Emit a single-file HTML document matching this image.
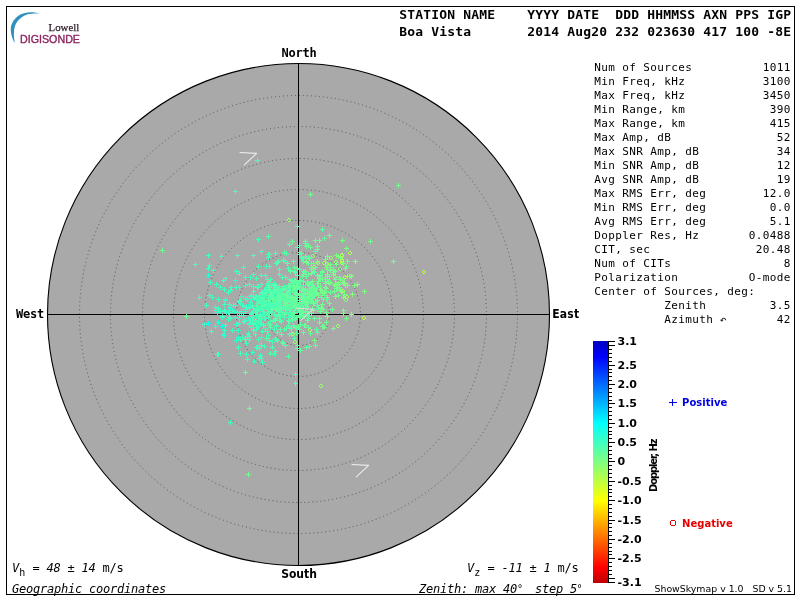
<!DOCTYPE html>
<html lang="en"><head><meta charset="utf-8"><title>Skymap - Boa Vista</title>
<style>
html,body{margin:0;padding:0;background:#fff}
body{width:800px;height:600px;overflow:hidden;position:relative}
svg{position:absolute;left:0;top:0;display:block;will-change:transform}
text{white-space:pre}
.hb{font:bold 13px "DejaVu Sans Mono","Liberation Mono",monospace;letter-spacing:.174px;fill:#000}
.tb{font:11px "DejaVu Sans Mono","Liberation Mono",monospace;letter-spacing:.378px;fill:#000}
.it{font:italic 12px "DejaVu Sans Mono","Liberation Mono",monospace;letter-spacing:-.224px;fill:#000}
.up{font:12px "DejaVu Sans Mono","Liberation Mono",monospace;letter-spacing:-.224px;fill:#000}
.mb{font:bold 12px "DejaVu Sans Mono","Liberation Mono",monospace;fill:#000}
.sb{font:bold 12px "DejaVu Sans Condensed","DejaVu Sans","Liberation Sans",sans-serif;fill:#000}
.cl{font:bold 11px "DejaVu Sans","Liberation Sans",sans-serif;fill:#000}
.lg{font:bold 10px "DejaVu Sans","Liberation Sans",sans-serif}
.sm{font:9.4px "DejaVu Sans","Liberation Sans",sans-serif;fill:#000}
</style></head>
<body>
<svg width="800" height="600" viewBox="0 0 800 600">
<defs>
<linearGradient id="jet" x1="0" y1="0" x2="0" y2="1">
<stop offset="0.0000" stop-color="#0000be"/>
<stop offset="0.0645" stop-color="#0000ff"/>
<stop offset="0.3387" stop-color="#00ffff"/>
<stop offset="0.5000" stop-color="#80ff80"/>
<stop offset="0.6613" stop-color="#ffff00"/>
<stop offset="0.9355" stop-color="#ff0000"/>
<stop offset="1.0000" stop-color="#be0000"/>
</linearGradient>
<clipPath id="cc"><circle cx="298.5" cy="314.5" r="251.0"/></clipPath>
</defs>
<rect x="6.5" y="6.5" width="788" height="588" fill="#fff" stroke="#000" stroke-width="1" shape-rendering="crispEdges"/>
<g id="logo">
<path d="M39.3 13.7C34 11.4 24 11.4 18 16C13 20 10.5 25 10.8 30C11 35 12.5 39.5 14.9 43C13.5 37 13.5 30.5 15 26C17 20.5 22 16.2 28 14.3C32 13.2 36 13.2 39.3 13.7Z" fill="#3191bd"/>
<text x="48.6" y="30.6" textLength="30.6" lengthAdjust="spacingAndGlyphs" style="font:11px 'Liberation Serif',serif;fill:#33222c;stroke:#33222c;stroke-width:.25px">Lowell</text>
<text x="20" y="42.8" textLength="60" lengthAdjust="spacingAndGlyphs" style="font:10.5px 'Liberation Sans',sans-serif;fill:#8c2460;stroke:#8c2460;stroke-width:.35px">DIGISONDE</text>
</g>
<text class="hb" x="399.3" y="19">STATION NAME    YYYY DATE  DDD HHMMSS AXN PPS IGP</text>
<text class="hb" x="399.3" y="35.7">Boa Vista       2014 Aug20 232 023630 417 100 -8E</text>
<text class="tb" x="594.3" y="71">Num of Sources</text><text class="tb" x="790.7" y="71" text-anchor="end">1011</text>
<text class="tb" x="594.3" y="85">Min Freq, kHz</text><text class="tb" x="790.7" y="85" text-anchor="end">3100</text>
<text class="tb" x="594.3" y="99">Max Freq, kHz</text><text class="tb" x="790.7" y="99" text-anchor="end">3450</text>
<text class="tb" x="594.3" y="113">Min Range, km</text><text class="tb" x="790.7" y="113" text-anchor="end">390</text>
<text class="tb" x="594.3" y="127">Max Range, km</text><text class="tb" x="790.7" y="127" text-anchor="end">415</text>
<text class="tb" x="594.3" y="141">Max Amp, dB</text><text class="tb" x="790.7" y="141" text-anchor="end">52</text>
<text class="tb" x="594.3" y="155">Max SNR Amp, dB</text><text class="tb" x="790.7" y="155" text-anchor="end">34</text>
<text class="tb" x="594.3" y="169">Min SNR Amp, dB</text><text class="tb" x="790.7" y="169" text-anchor="end">12</text>
<text class="tb" x="594.3" y="183">Avg SNR Amp, dB</text><text class="tb" x="790.7" y="183" text-anchor="end">19</text>
<text class="tb" x="594.3" y="197">Max RMS Err, deg</text><text class="tb" x="790.7" y="197" text-anchor="end">12.0</text>
<text class="tb" x="594.3" y="211">Min RMS Err, deg</text><text class="tb" x="790.7" y="211" text-anchor="end">0.0</text>
<text class="tb" x="594.3" y="225">Avg RMS Err, deg</text><text class="tb" x="790.7" y="225" text-anchor="end">5.1</text>
<text class="tb" x="594.3" y="239">Doppler Res, Hz</text><text class="tb" x="790.7" y="239" text-anchor="end">0.0488</text>
<text class="tb" x="594.3" y="253">CIT, sec</text><text class="tb" x="790.7" y="253" text-anchor="end">20.48</text>
<text class="tb" x="594.3" y="267">Num of CITs</text><text class="tb" x="790.7" y="267" text-anchor="end">8</text>
<text class="tb" x="594.3" y="281">Polarization</text><text class="tb" x="790.7" y="281" text-anchor="end">O-mode</text>
<text class="tb" x="594.3" y="295">Center of Sources, deg:</text>
<text class="tb" x="594.3" y="309">          Zenith</text><text class="tb" x="790.7" y="309" text-anchor="end">3.5</text>
<text class="tb" x="594.3" y="323">          Azimuth</text><text class="tb" x="790.7" y="323" text-anchor="end">42</text>
<text x="720" y="323" style="font:bold 7.5px 'DejaVu Sans',sans-serif;fill:#222">↶</text>
<g id="sky">
<circle cx="298.5" cy="314.5" r="251.0" fill="#a9a9a9" stroke="#000" stroke-width="1.1"/>
<circle cx="298.5" cy="314.5" r="31.00" fill="none" stroke="#555" stroke-width="1" stroke-dasharray="1 2.9751"/>
<circle cx="298.5" cy="314.5" r="62.00" fill="none" stroke="#555" stroke-width="1" stroke-dasharray="1 3.0161"/>
<circle cx="298.5" cy="314.5" r="94.00" fill="none" stroke="#555" stroke-width="1" stroke-dasharray="1 2.9907"/>
<circle cx="298.5" cy="314.5" r="125.00" fill="none" stroke="#555" stroke-width="1" stroke-dasharray="1 3.0071"/>
<circle cx="298.5" cy="314.5" r="156.00" fill="none" stroke="#555" stroke-width="1" stroke-dasharray="1 3.0007"/>
<circle cx="298.5" cy="314.5" r="188.00" fill="none" stroke="#555" stroke-width="1" stroke-dasharray="1 3.0042"/>
<circle cx="298.5" cy="314.5" r="219.00" fill="none" stroke="#555" stroke-width="1" stroke-dasharray="1 3.0001"/>
<path d="M298.5 63.5V565.5M47.5 314.5H549.5" stroke="#000" stroke-width="1" shape-rendering="crispEdges"/>
<g id="sources" clip-path="url(#cc)">
<path d="M206 323.5h5M208.5 321v5" stroke="#0dfff2" stroke-width="1" fill="none" shape-rendering="crispEdges"/>
<path d="M220 326.5h5M222.5 324v5" stroke="#13ffec" stroke-width="1" fill="none" shape-rendering="crispEdges"/>
<path d="M215 312.5h5M217.5 310v5" stroke="#1affe6" stroke-width="1" fill="none" shape-rendering="crispEdges"/>
<path d="M237 302.5h5M239.5 300v5M206 275.5h5M208.5 273v5M228 308.5h5M230.5 306v5" stroke="#20ffdf" stroke-width="1" fill="none" shape-rendering="crispEdges"/>
<path d="M210 297.5h5M212.5 295v5M223 300.5h5M225.5 298v5M233 280.5h5M235.5 278v5M236 337.5h5M238.5 335v5M216 322.5h5M218.5 320v5M213 307.5h5M215.5 305v5" stroke="#26ffd9" stroke-width="1" fill="none" shape-rendering="crispEdges"/>
<path d="M237 323.5h5M239.5 321v5M243 320.5h5M245.5 318v5M224 312.5h5M226.5 310v5M247 306.5h5M249.5 304v5M265 284.5h5M267.5 282v5M239 311.5h5M241.5 309v5M227 307.5h5M229.5 305v5M222 335.5h5M224.5 333v5M213 326.5h5M215.5 324v5M233 305.5h5M235.5 303v5" stroke="#2dffd3" stroke-width="1" fill="none" shape-rendering="crispEdges"/>
<path d="M254 310.5h5M256.5 308v5M260 302.5h5M262.5 300v5M268 297.5h5M270.5 295v5M249 313.5h5M251.5 311v5M255 327.5h5M257.5 325v5M247 308.5h5M249.5 306v5M237 287.5h5M239.5 285v5M245 299.5h5M247.5 297v5M247 320.5h5M249.5 318v5M237 318.5h5M239.5 316v5M232 311.5h5M234.5 309v5M250 352.5h5M252.5 350v5M245 336.5h5M247.5 334v5M247 336.5h5M249.5 334v5M221 334.5h5M223.5 332v5M254 329.5h5M256.5 327v5M235 324.5h5M237.5 322v5M233 317.5h5M235.5 315v5M251 316.5h5M253.5 314v5M249 299.5h5M251.5 297v5M249 318.5h5M251.5 316v5M234 340.5h5M236.5 338v5M236 330.5h5M238.5 328v5M283 261.5h5M285.5 259v5" stroke="#33ffcc" stroke-width="1" fill="none" shape-rendering="crispEdges"/>
<path d="M239 313.5h5M241.5 311v5M258 308.5h5M260.5 306v5M272 286.5h5M274.5 284v5M247 307.5h5M249.5 305v5M255 303.5h5M257.5 301v5M258 314.5h5M260.5 312v5M269 296.5h5M271.5 294v5M251 307.5h5M253.5 305v5M283 298.5h5M285.5 296v5M246 306.5h5M248.5 304v5M244 306.5h5M246.5 304v5M223 299.5h5M225.5 297v5M239 311.5h5M241.5 309v5M237 301.5h5M239.5 299v5M255 286.5h5M257.5 284v5M260 314.5h5M262.5 312v5M237 300.5h5M239.5 298v5M239 296.5h5M241.5 294v5M237 315.5h5M239.5 313v5M269 293.5h5M271.5 291v5M241 305.5h5M243.5 303v5M223 311.5h5M225.5 309v5M260 296.5h5M262.5 294v5M241 313.5h5M243.5 311v5M248 302.5h5M250.5 300v5M254 307.5h5M256.5 305v5M263 328.5h5M265.5 326v5M226 312.5h5M228.5 310v5M248 320.5h5M250.5 318v5M240 305.5h5M242.5 303v5M257 345.5h5M259.5 343v5M256 316.5h5M258.5 314v5M234 324.5h5M236.5 322v5M246 318.5h5M248.5 316v5M251 323.5h5M253.5 321v5M249 324.5h5M251.5 322v5M259 337.5h5M261.5 335v5M249 314.5h5M251.5 312v5M253 320.5h5M255.5 318v5M259 251.5h5M261.5 249v5" stroke="#3affc6" stroke-width="1" fill="none" shape-rendering="crispEdges"/>
<path d="M270 304.5h5M272.5 302v5M256 308.5h5M258.5 306v5M259 316.5h5M261.5 314v5M277 300.5h5M279.5 298v5M264 304.5h5M266.5 302v5M254 296.5h5M256.5 294v5M284 300.5h5M286.5 298v5M259 295.5h5M261.5 293v5M241 315.5h5M243.5 313v5M278 311.5h5M280.5 309v5M256 318.5h5M258.5 316v5M255 314.5h5M257.5 312v5M274 288.5h5M276.5 286v5M264 292.5h5M266.5 290v5M253 309.5h5M255.5 307v5M285 289.5h5M287.5 287v5M252 298.5h5M254.5 296v5M257 295.5h5M259.5 293v5M262 318.5h5M264.5 316v5M243 311.5h5M245.5 309v5M247 296.5h5M249.5 294v5M269 285.5h5M271.5 283v5M275 288.5h5M277.5 286v5M227 312.5h5M229.5 310v5M257 309.5h5M259.5 307v5M263 290.5h5M265.5 288v5M263 275.5h5M265.5 273v5M267 289.5h5M269.5 287v5M259 284.5h5M261.5 282v5M243 285.5h5M245.5 283v5M258 319.5h5M260.5 317v5M267 281.5h5M269.5 279v5M270 305.5h5M272.5 303v5M249 295.5h5M251.5 293v5M268 302.5h5M270.5 300v5M262 290.5h5M264.5 288v5M255 305.5h5M257.5 303v5M266 297.5h5M268.5 295v5M262 303.5h5M264.5 301v5M258 324.5h5M260.5 322v5M261 307.5h5M263.5 305v5M265 279.5h5M267.5 277v5M255 311.5h5M257.5 309v5M246 333.5h5M248.5 331v5M238 303.5h5M240.5 301v5M251 312.5h5M253.5 310v5M282 314.5h5M284.5 312v5M235 312.5h5M237.5 310v5M262 315.5h5M264.5 313v5M247 323.5h5M249.5 321v5M249 327.5h5M251.5 325v5M228 318.5h5M230.5 316v5M256 326.5h5M258.5 324v5M243 309.5h5M245.5 307v5M253 309.5h5M255.5 307v5M254 329.5h5M256.5 327v5M264 338.5h5M266.5 336v5M251 318.5h5M253.5 316v5M253 334.5h5M255.5 332v5M274 326.5h5M276.5 324v5M247 336.5h5M249.5 334v5M260 362.5h5M262.5 360v5M230 310.5h5M232.5 308v5M227 317.5h5M229.5 315v5M251 296.5h5M253.5 294v5M242 321.5h5M244.5 319v5M250 320.5h5M252.5 318v5M254 347.5h5M256.5 345v5M263 318.5h5M265.5 316v5M233 191.5h5M235.5 189v5M206 255.5h5M208.5 253v5M219 256.5h5M221.5 254v5M235 255.5h5M237.5 253v5M251 255.5h5M253.5 253v5M256 239.5h5M258.5 237v5M193 264.5h5M195.5 262v5M207 265.5h5M209.5 263v5M206 268.5h5M208.5 266v5M241 267.5h5M243.5 265v5M266 236.5h5M268.5 234v5M202 324.5h5M204.5 322v5M209 331.5h5M211.5 329v5M215 354.5h5M217.5 352v5M216 354.5h5M218.5 352v5M245 359.5h5M247.5 357v5M252 361.5h5M254.5 359v5M257 358.5h5M259.5 356v5M258 355.5h5M260.5 353v5M244 354.5h5M246.5 352v5M236 347.5h5M238.5 345v5M244 343.5h5M246.5 341v5M240 337.5h5M242.5 335v5M247 339.5h5M249.5 337v5M222 330.5h5M224.5 328v5M230 330.5h5M232.5 328v5M223 325.5h5M225.5 323v5M220 317.5h5M222.5 315v5M226 319.5h5M228.5 317v5M228 422.5h5M230.5 420v5M255 160.5h5M257.5 158v5M211 270.5h5M213.5 268v5M267 266.5h5M269.5 264v5M234 271.5h5M236.5 269v5M243 277.5h5M245.5 275v5M248 277.5h5M250.5 275v5M251 274.5h5M253.5 272v5M259 275.5h5M261.5 273v5M223 278.5h5M225.5 276v5M221 280.5h5M223.5 278v5M208 282.5h5M210.5 280v5M214 284.5h5M216.5 282v5M218 287.5h5M220.5 285v5M222 289.5h5M224.5 287v5M229 287.5h5M231.5 285v5M234 287.5h5M236.5 285v5M228 290.5h5M230.5 288v5M226 292.5h5M228.5 290v5M197 297.5h5M199.5 295v5M207 295.5h5M209.5 293v5M210 297.5h5M212.5 295v5M216 299.5h5M218.5 297v5M204 305.5h5M206.5 303v5M222 304.5h5M224.5 302v5M227 304.5h5M229.5 302v5M231 305.5h5M233.5 303v5M213 310.5h5M215.5 308v5M216 308.5h5M218.5 306v5M218 311.5h5M220.5 309v5M222 310.5h5M224.5 308v5M220 316.5h5M222.5 314v5" stroke="#40ffc0" stroke-width="1" fill="none" shape-rendering="crispEdges"/>
<path d="M279 294.5h5M281.5 292v5M253 309.5h5M255.5 307v5M282 297.5h5M284.5 295v5M268 306.5h5M270.5 304v5M267 298.5h5M269.5 296v5M260 293.5h5M262.5 291v5M288 302.5h5M290.5 300v5M289 314.5h5M291.5 312v5M272 296.5h5M274.5 294v5M278 316.5h5M280.5 314v5M291 301.5h5M293.5 299v5M286 287.5h5M288.5 285v5M266 298.5h5M268.5 296v5M274 303.5h5M276.5 301v5M277 300.5h5M279.5 298v5M275 307.5h5M277.5 305v5M269 305.5h5M271.5 303v5M280 295.5h5M282.5 293v5M264 307.5h5M266.5 305v5M263 304.5h5M265.5 302v5M259 301.5h5M261.5 299v5M256 307.5h5M258.5 305v5M259 307.5h5M261.5 305v5M257 297.5h5M259.5 295v5M273 309.5h5M275.5 307v5M280 297.5h5M282.5 295v5M274 290.5h5M276.5 288v5M266 309.5h5M268.5 307v5M279 290.5h5M281.5 288v5M282 307.5h5M284.5 305v5M254 308.5h5M256.5 306v5M275 303.5h5M277.5 301v5M270 308.5h5M272.5 306v5M262 295.5h5M264.5 293v5M264 291.5h5M266.5 289v5M262 297.5h5M264.5 295v5M265 305.5h5M267.5 303v5M251 291.5h5M253.5 289v5M286 314.5h5M288.5 312v5M247 324.5h5M249.5 322v5M256 286.5h5M258.5 284v5M264 287.5h5M266.5 285v5M254 323.5h5M256.5 321v5M261 311.5h5M263.5 309v5M273 319.5h5M275.5 317v5M254 278.5h5M256.5 276v5M247 284.5h5M249.5 282v5M277 314.5h5M279.5 312v5M243 298.5h5M245.5 296v5M252 324.5h5M254.5 322v5M283 289.5h5M285.5 287v5M256 300.5h5M258.5 298v5M249 317.5h5M251.5 315v5M287 317.5h5M289.5 315v5M281 309.5h5M283.5 307v5M265 307.5h5M267.5 305v5M238 300.5h5M240.5 298v5M251 286.5h5M253.5 284v5M254 299.5h5M256.5 297v5M278 304.5h5M280.5 302v5M270 293.5h5M272.5 291v5M267 325.5h5M269.5 323v5M278 312.5h5M280.5 310v5M274 318.5h5M276.5 316v5M272 329.5h5M274.5 327v5M277 274.5h5M279.5 272v5M258 302.5h5M260.5 300v5M262 293.5h5M264.5 291v5M273 299.5h5M275.5 297v5M288 315.5h5M290.5 313v5M261 324.5h5M263.5 322v5M250 305.5h5M252.5 303v5M250 312.5h5M252.5 310v5M275 305.5h5M277.5 303v5M266 335.5h5M268.5 333v5M271 321.5h5M273.5 319v5M282 317.5h5M284.5 315v5M254 315.5h5M256.5 313v5M241 321.5h5M243.5 319v5M285 301.5h5M287.5 299v5M266 301.5h5M268.5 299v5M270 341.5h5M272.5 339v5M259 323.5h5M261.5 321v5M256 321.5h5M258.5 319v5M270 309.5h5M272.5 307v5M266 317.5h5M268.5 315v5M279 334.5h5M281.5 332v5M238 353.5h5M240.5 351v5M257 348.5h5M259.5 346v5M262 346.5h5M264.5 344v5M273 351.5h5M275.5 349v5M238 339.5h5M240.5 337v5M247 336.5h5M249.5 334v5M267 254.5h5M269.5 252v5M266 257.5h5M268.5 255v5M264 266.5h5M266.5 264v5M237 273.5h5M239.5 271v5" stroke="#46ffb9" stroke-width="1" fill="none" shape-rendering="crispEdges"/>
<path d="M292 282.5h5M294.5 280v5M277 300.5h5M279.5 298v5M272 283.5h5M274.5 281v5M302 303.5h5M304.5 301v5M287 290.5h5M289.5 288v5M278 320.5h5M280.5 318v5M254 299.5h5M256.5 297v5M260 303.5h5M262.5 301v5M264 295.5h5M266.5 293v5M259 309.5h5M261.5 307v5M266 283.5h5M268.5 281v5M276 304.5h5M278.5 302v5M277 286.5h5M279.5 284v5M278 302.5h5M280.5 300v5M269 293.5h5M271.5 291v5M286 292.5h5M288.5 290v5M287 304.5h5M289.5 302v5M268 297.5h5M270.5 295v5M277 286.5h5M279.5 284v5M258 307.5h5M260.5 305v5M269 291.5h5M271.5 289v5M280 288.5h5M282.5 286v5M253 296.5h5M255.5 294v5M277 296.5h5M279.5 294v5M277 306.5h5M279.5 304v5M268 295.5h5M270.5 293v5M266 287.5h5M268.5 285v5M303 298.5h5M305.5 296v5M284 299.5h5M286.5 297v5M291 312.5h5M293.5 310v5M269 297.5h5M271.5 295v5M281 295.5h5M283.5 293v5M271 295.5h5M273.5 293v5M254 316.5h5M256.5 314v5M268 292.5h5M270.5 290v5M283 289.5h5M285.5 287v5M273 315.5h5M275.5 313v5M280 298.5h5M282.5 296v5M256 309.5h5M258.5 307v5M273 303.5h5M275.5 301v5M280 277.5h5M282.5 275v5M276 298.5h5M278.5 296v5M265 290.5h5M267.5 288v5M260 309.5h5M262.5 307v5M290 283.5h5M292.5 281v5M286 298.5h5M288.5 296v5M285 298.5h5M287.5 296v5M306 316.5h5M308.5 314v5M287 300.5h5M289.5 298v5M296 310.5h5M298.5 308v5M293 272.5h5M295.5 270v5M276 291.5h5M278.5 289v5M279 296.5h5M281.5 294v5M276 290.5h5M278.5 288v5M275 292.5h5M277.5 290v5M285 306.5h5M287.5 304v5M271 298.5h5M273.5 296v5M268 279.5h5M270.5 277v5M282 300.5h5M284.5 298v5M315 309.5h5M317.5 307v5M261 292.5h5M263.5 290v5M293 319.5h5M295.5 317v5M281 299.5h5M283.5 297v5M255 287.5h5M257.5 285v5M265 312.5h5M267.5 310v5M288 298.5h5M290.5 296v5M263 290.5h5M265.5 288v5M272 284.5h5M274.5 282v5M272 314.5h5M274.5 312v5M264 295.5h5M266.5 293v5M275 262.5h5M277.5 260v5M268 305.5h5M270.5 303v5M277 269.5h5M279.5 267v5M266 313.5h5M268.5 311v5M275 293.5h5M277.5 291v5M288 312.5h5M290.5 310v5M253 312.5h5M255.5 310v5M283 313.5h5M285.5 311v5M304 301.5h5M306.5 299v5M276 292.5h5M278.5 290v5M267 293.5h5M269.5 291v5M271 306.5h5M273.5 304v5M279 299.5h5M281.5 297v5M262 294.5h5M264.5 292v5M271 289.5h5M273.5 287v5M271 308.5h5M273.5 306v5M261 300.5h5M263.5 298v5M274 295.5h5M276.5 293v5M262 306.5h5M264.5 304v5M262 314.5h5M264.5 312v5M300 305.5h5M302.5 303v5M260 298.5h5M262.5 296v5M288 295.5h5M290.5 293v5M267 340.5h5M269.5 338v5M277 303.5h5M279.5 301v5M255 303.5h5M257.5 301v5M273 338.5h5M275.5 336v5M267 303.5h5M269.5 301v5M259 345.5h5M261.5 343v5M270 347.5h5M272.5 345v5M284 309.5h5M286.5 307v5M265 331.5h5M267.5 329v5M259 358.5h5M261.5 356v5M277 286.5h5M279.5 284v5M256 339.5h5M258.5 337v5M261 325.5h5M263.5 323v5M277 320.5h5M279.5 318v5M255 311.5h5M257.5 309v5M274 339.5h5M276.5 337v5M260 331.5h5M262.5 329v5M261 311.5h5M263.5 309v5M250 320.5h5M252.5 318v5M286 288.5h5M288.5 286v5M286 268.5h5M288.5 266v5M313 251.5h5M315.5 249v5M256 266.5h5M258.5 264v5M297 245.5h5M299.5 243v5M273 253.5h5M275.5 251v5M266 254.5h5M268.5 252v5M293 374.5h5M295.5 372v5M272 354.5h5M274.5 352v5M256 239.5h5M258.5 237v5M273 253.5h5M275.5 251v5M274 263.5h5M276.5 261v5" stroke="#4dffb3" stroke-width="1" fill="none" shape-rendering="crispEdges"/>
<path d="M273 303.5h5M275.5 301v5M268 309.5h5M270.5 307v5M285 291.5h5M287.5 289v5M277 295.5h5M279.5 293v5M259 292.5h5M261.5 290v5M290 315.5h5M292.5 313v5M262 301.5h5M264.5 299v5M290 301.5h5M292.5 299v5M300 298.5h5M302.5 296v5M277 310.5h5M279.5 308v5M283 297.5h5M285.5 295v5M280 314.5h5M282.5 312v5M279 321.5h5M281.5 319v5M281 296.5h5M283.5 294v5M282 307.5h5M284.5 305v5M277 299.5h5M279.5 297v5M302 297.5h5M304.5 295v5M271 293.5h5M273.5 291v5M274 290.5h5M276.5 288v5M266 301.5h5M268.5 299v5M268 290.5h5M270.5 288v5M288 310.5h5M290.5 308v5M297 307.5h5M299.5 305v5M289 297.5h5M291.5 295v5M284 293.5h5M286.5 291v5M284 309.5h5M286.5 307v5M276 288.5h5M278.5 286v5M295 295.5h5M297.5 293v5M288 308.5h5M290.5 306v5M278 306.5h5M280.5 304v5M254 305.5h5M256.5 303v5M290 304.5h5M292.5 302v5M280 297.5h5M282.5 295v5M284 295.5h5M286.5 293v5M274 301.5h5M276.5 299v5M269 291.5h5M271.5 289v5M305 301.5h5M307.5 299v5M295 297.5h5M297.5 295v5M293 304.5h5M295.5 302v5M286 294.5h5M288.5 292v5M305 311.5h5M307.5 309v5M294 289.5h5M296.5 287v5M278 295.5h5M280.5 293v5M273 286.5h5M275.5 284v5M270 297.5h5M272.5 295v5M276 290.5h5M278.5 288v5M259 305.5h5M261.5 303v5M286 306.5h5M288.5 304v5M291 299.5h5M293.5 297v5M281 260.5h5M283.5 258v5M278 308.5h5M280.5 306v5M272 290.5h5M274.5 288v5M268 321.5h5M270.5 319v5M288 287.5h5M290.5 285v5M287 310.5h5M289.5 308v5M266 315.5h5M268.5 313v5M301 285.5h5M303.5 283v5M297 281.5h5M299.5 279v5M286 325.5h5M288.5 323v5M269 312.5h5M271.5 310v5M267 315.5h5M269.5 313v5M287 292.5h5M289.5 290v5M308 283.5h5M310.5 281v5M282 286.5h5M284.5 284v5M290 280.5h5M292.5 278v5M287 327.5h5M289.5 325v5M275 302.5h5M277.5 300v5M272 306.5h5M274.5 304v5M287 279.5h5M289.5 277v5M273 318.5h5M275.5 316v5M276 314.5h5M278.5 312v5M274 291.5h5M276.5 289v5M257 316.5h5M259.5 314v5M283 345.5h5M285.5 343v5M271 320.5h5M273.5 318v5M289 310.5h5M291.5 308v5M293 327.5h5M295.5 325v5M274 318.5h5M276.5 316v5M282 329.5h5M284.5 327v5M251 330.5h5M253.5 328v5M274 325.5h5M276.5 323v5M275 340.5h5M277.5 338v5M287 334.5h5M289.5 332v5M268 324.5h5M270.5 322v5M265 331.5h5M267.5 329v5M260 299.5h5M262.5 297v5M265 309.5h5M267.5 307v5M271 320.5h5M273.5 318v5M268 311.5h5M270.5 309v5M266 323.5h5M268.5 321v5M276 289.5h5M278.5 287v5M300 311.5h5M302.5 309v5M310 292.5h5M312.5 290v5M300 258.5h5M302.5 256v5M303 243.5h5M305.5 241v5M297 269.5h5M299.5 267v5M297 254.5h5M299.5 252v5M295 275.5h5M297.5 273v5M284 253.5h5M286.5 251v5M291 325.5h5M293.5 323v5M292 338.5h5M294.5 336v5M293 383.5h5M295.5 381v5M255 347.5h5M257.5 345v5M268 353.5h5M270.5 351v5M266 236.5h5M268.5 234v5M276 261.5h5M278.5 259v5" stroke="#53ffac" stroke-width="1" fill="none" shape-rendering="crispEdges"/>
<path d="M271 308.5h5M273.5 306v5M310 297.5h5M312.5 295v5M282 314.5h5M284.5 312v5M288 305.5h5M290.5 303v5M282 296.5h5M284.5 294v5M290 320.5h5M292.5 318v5M291 283.5h5M293.5 281v5M281 300.5h5M283.5 298v5M293 306.5h5M295.5 304v5M282 288.5h5M284.5 286v5M277 295.5h5M279.5 293v5M275 302.5h5M277.5 300v5M277 310.5h5M279.5 308v5M283 306.5h5M285.5 304v5M284 296.5h5M286.5 294v5M280 289.5h5M282.5 287v5M266 287.5h5M268.5 285v5M276 314.5h5M278.5 312v5M289 302.5h5M291.5 300v5M287 300.5h5M289.5 298v5M266 300.5h5M268.5 298v5M283 293.5h5M285.5 291v5M284 301.5h5M286.5 299v5M282 300.5h5M284.5 298v5M279 307.5h5M281.5 305v5M268 295.5h5M270.5 293v5M282 304.5h5M284.5 302v5M293 297.5h5M295.5 295v5M309 290.5h5M311.5 288v5M293 296.5h5M295.5 294v5M303 299.5h5M305.5 297v5M308 302.5h5M310.5 300v5M306 296.5h5M308.5 294v5M292 312.5h5M294.5 310v5M297 287.5h5M299.5 285v5M292 289.5h5M294.5 287v5M297 302.5h5M299.5 300v5M283 305.5h5M285.5 303v5M305 296.5h5M307.5 294v5M306 293.5h5M308.5 291v5M274 309.5h5M276.5 307v5M292 315.5h5M294.5 313v5M275 298.5h5M277.5 296v5M288 304.5h5M290.5 302v5M296 282.5h5M298.5 280v5M272 302.5h5M274.5 300v5M287 321.5h5M289.5 319v5M292 317.5h5M294.5 315v5M299 257.5h5M301.5 255v5M275 295.5h5M277.5 293v5M285 291.5h5M287.5 289v5M298 316.5h5M300.5 314v5M288 271.5h5M290.5 269v5M267 287.5h5M269.5 285v5M285 291.5h5M287.5 289v5M296 305.5h5M298.5 303v5M268 327.5h5M270.5 325v5M289 315.5h5M291.5 313v5M293 298.5h5M295.5 296v5M281 309.5h5M283.5 307v5M287 299.5h5M289.5 297v5M288 285.5h5M290.5 283v5M289 319.5h5M291.5 317v5M299 303.5h5M301.5 301v5M290 303.5h5M292.5 301v5M288 270.5h5M290.5 268v5M284 300.5h5M286.5 298v5M289 297.5h5M291.5 295v5M295 295.5h5M297.5 293v5M269 292.5h5M271.5 290v5M277 316.5h5M279.5 314v5M314 329.5h5M316.5 327v5M263 304.5h5M265.5 302v5M305 314.5h5M307.5 312v5M273 318.5h5M275.5 316v5M291 326.5h5M293.5 324v5M289 328.5h5M291.5 326v5M289 299.5h5M291.5 297v5M278 329.5h5M280.5 327v5M280 342.5h5M282.5 340v5M259 318.5h5M261.5 316v5M275 332.5h5M277.5 330v5M264 338.5h5M266.5 336v5M271 308.5h5M273.5 306v5M286 320.5h5M288.5 318v5M294 333.5h5M296.5 331v5M289 333.5h5M291.5 331v5M284 328.5h5M286.5 326v5M281 343.5h5M283.5 341v5M243 339.5h5M245.5 337v5M305 284.5h5M307.5 282v5M309 284.5h5M311.5 282v5M315 287.5h5M317.5 285v5M295 268.5h5M297.5 266v5M301 261.5h5M303.5 259v5M313 267.5h5M315.5 265v5M301 281.5h5M303.5 279v5M306 257.5h5M308.5 255v5M312 272.5h5M314.5 270v5M295 226.5h5M297.5 224v5M287 244.5h5M289.5 242v5M295 247.5h5M297.5 245v5M286 356.5h5M288.5 354v5" stroke="#5affa6" stroke-width="1" fill="none" shape-rendering="crispEdges"/>
<path d="M301 293.5h5M303.5 291v5M295 286.5h5M297.5 284v5M297 310.5h5M299.5 308v5M281 304.5h5M283.5 302v5M297 294.5h5M299.5 292v5M285 304.5h5M287.5 302v5M292 307.5h5M294.5 305v5M283 304.5h5M285.5 302v5M276 298.5h5M278.5 296v5M284 301.5h5M286.5 299v5M299 289.5h5M301.5 287v5M283 312.5h5M285.5 310v5M271 308.5h5M273.5 306v5M316 307.5h5M318.5 305v5M290 290.5h5M292.5 288v5M299 312.5h5M301.5 310v5M288 290.5h5M290.5 288v5M290 304.5h5M292.5 302v5M279 300.5h5M281.5 298v5M306 302.5h5M308.5 300v5M306 274.5h5M308.5 272v5M302 290.5h5M304.5 288v5M313 294.5h5M315.5 292v5M301 312.5h5M303.5 310v5M292 280.5h5M294.5 278v5M313 301.5h5M315.5 299v5M312 294.5h5M314.5 292v5M305 312.5h5M307.5 310v5M309 297.5h5M311.5 295v5M296 287.5h5M298.5 285v5M315 305.5h5M317.5 303v5M301 301.5h5M303.5 299v5M292 292.5h5M294.5 290v5M310 294.5h5M312.5 292v5M305 282.5h5M307.5 280v5M312 303.5h5M314.5 301v5M305 299.5h5M307.5 297v5M297 295.5h5M299.5 293v5M301 294.5h5M303.5 292v5M301 307.5h5M303.5 305v5M298 280.5h5M300.5 278v5M303 256.5h5M305.5 254v5M295 275.5h5M297.5 273v5M300 297.5h5M302.5 295v5M312 288.5h5M314.5 286v5M300 298.5h5M302.5 296v5M308 297.5h5M310.5 295v5M293 280.5h5M295.5 278v5M300 303.5h5M302.5 301v5M321 299.5h5M323.5 297v5M298 285.5h5M300.5 283v5M299 290.5h5M301.5 288v5M288 307.5h5M290.5 305v5M298 311.5h5M300.5 309v5M286 285.5h5M288.5 283v5M293 299.5h5M295.5 297v5M297 300.5h5M299.5 298v5M280 294.5h5M282.5 292v5M275 309.5h5M277.5 307v5M289 281.5h5M291.5 279v5M283 277.5h5M285.5 275v5M293 298.5h5M295.5 296v5M303 312.5h5M305.5 310v5M278 295.5h5M280.5 293v5M304 307.5h5M306.5 305v5M293 292.5h5M295.5 290v5M292 300.5h5M294.5 298v5M321 309.5h5M323.5 307v5M281 289.5h5M283.5 287v5M297 293.5h5M299.5 291v5M298 324.5h5M300.5 322v5M295 308.5h5M297.5 306v5M279 334.5h5M281.5 332v5M300 316.5h5M302.5 314v5M321 326.5h5M323.5 324v5M294 317.5h5M296.5 315v5M273 320.5h5M275.5 318v5M293 308.5h5M295.5 306v5M301 288.5h5M303.5 286v5M312 288.5h5M314.5 286v5M307 284.5h5M309.5 282v5M301 289.5h5M303.5 287v5M301 271.5h5M303.5 269v5M325 281.5h5M327.5 279v5M325 265.5h5M327.5 263v5M294 283.5h5M296.5 281v5M310 291.5h5M312.5 289v5M309 287.5h5M311.5 285v5M306 284.5h5M308.5 282v5M318 275.5h5M320.5 273v5M308 291.5h5M310.5 289v5M306 318.5h5M308.5 316v5M311 271.5h5M313.5 269v5M291 261.5h5M293.5 259v5M303 241.5h5M305.5 239v5M302 272.5h5M304.5 270v5M307 258.5h5M309.5 256v5M299 253.5h5M301.5 251v5M282 252.5h5M284.5 250v5M285 263.5h5M287.5 261v5M292 271.5h5M294.5 269v5M320 229.5h5M322.5 227v5M296 326.5h5M298.5 324v5M306 327.5h5M308.5 325v5M297 329.5h5M299.5 327v5M315 332.5h5M317.5 330v5M307 346.5h5M309.5 344v5M304 347.5h5M306.5 345v5M295 348.5h5M297.5 346v5" stroke="#60ffa0" stroke-width="1" fill="none" shape-rendering="crispEdges"/>
<path d="M294 293.5h5M296.5 291v5M284 304.5h5M286.5 302v5M284 302.5h5M286.5 300v5M301 290.5h5M303.5 288v5M309 313.5h5M311.5 311v5M300 311.5h5M302.5 309v5M293 298.5h5M295.5 296v5M273 285.5h5M275.5 283v5M297 308.5h5M299.5 306v5M284 295.5h5M286.5 293v5M305 299.5h5M307.5 297v5M287 298.5h5M289.5 296v5M311 295.5h5M313.5 293v5M307 296.5h5M309.5 294v5M293 287.5h5M295.5 285v5M300 289.5h5M302.5 287v5M322 295.5h5M324.5 293v5M325 299.5h5M327.5 297v5M303 303.5h5M305.5 301v5M310 308.5h5M312.5 306v5M320 292.5h5M322.5 290v5M309 298.5h5M311.5 296v5M319 297.5h5M321.5 295v5M297 315.5h5M299.5 313v5M305 311.5h5M307.5 309v5M291 286.5h5M293.5 284v5M309 292.5h5M311.5 290v5M292 305.5h5M294.5 303v5M303 289.5h5M305.5 287v5M312 318.5h5M314.5 316v5M317 276.5h5M319.5 274v5M310 288.5h5M312.5 286v5M287 285.5h5M289.5 283v5M293 294.5h5M295.5 292v5M294 302.5h5M296.5 300v5M270 299.5h5M272.5 297v5M305 291.5h5M307.5 289v5M308 333.5h5M310.5 331v5M307 293.5h5M309.5 291v5M323 281.5h5M325.5 279v5M302 316.5h5M304.5 314v5M294 327.5h5M296.5 325v5M300 315.5h5M302.5 313v5M324 299.5h5M326.5 297v5M303 325.5h5M305.5 323v5M295 345.5h5M297.5 343v5M298 350.5h5M300.5 348v5M308 301.5h5M310.5 299v5M327 276.5h5M329.5 274v5M306 274.5h5M308.5 272v5M309 273.5h5M311.5 271v5M307 288.5h5M309.5 286v5M309 267.5h5M311.5 265v5M315 275.5h5M317.5 273v5M328 292.5h5M330.5 290v5M300 276.5h5M302.5 274v5M316 283.5h5M318.5 281v5M321 293.5h5M323.5 291v5M324 291.5h5M326.5 289v5M311 285.5h5M313.5 283v5M302 301.5h5M304.5 299v5M315 283.5h5M317.5 281v5M307 290.5h5M309.5 288v5M304 276.5h5M306.5 274v5M309 263.5h5M311.5 261v5M306 263.5h5M308.5 261v5M292 267.5h5M294.5 265v5M315 261.5h5M317.5 259v5M301 274.5h5M303.5 272v5M322 238.5h5M324.5 236v5M290 241.5h5M292.5 239v5M304 246.5h5M306.5 244v5M308 247.5h5M310.5 245v5M297 252.5h5M299.5 250v5M349 276.5h5M351.5 274v5M317 318.5h5M319.5 316v5M305 320.5h5M307.5 318v5M302 325.5h5M304.5 323v5M301 332.5h5M303.5 330v5M313 345.5h5M315.5 343v5" stroke="#66ff99" stroke-width="1" fill="none" shape-rendering="crispEdges"/>
<path d="M307 294.5h5M309.5 292v5M306 294.5h5M308.5 292v5M318 289.5h5M320.5 287v5M326 282.5h5M328.5 280v5M319 307.5h5M321.5 305v5M310 298.5h5M312.5 296v5M306 283.5h5M308.5 281v5M331 328.5h5M333.5 326v5M301 312.5h5M303.5 310v5M299 294.5h5M301.5 292v5M320 271.5h5M322.5 269v5M318 279.5h5M320.5 277v5M317 322.5h5M319.5 320v5M314 292.5h5M316.5 290v5M291 313.5h5M293.5 311v5M304 302.5h5M306.5 300v5M311 303.5h5M313.5 301v5M332 291.5h5M334.5 289v5M338 279.5h5M340.5 277v5M315 283.5h5M317.5 281v5M320 279.5h5M322.5 277v5M334 288.5h5M336.5 286v5M333 279.5h5M335.5 277v5M330 309.5h5M332.5 307v5M318 286.5h5M320.5 284v5M325 269.5h5M327.5 267v5M333 296.5h5M335.5 294v5M331 270.5h5M333.5 268v5M331 272.5h5M333.5 270v5M311 263.5h5M313.5 261v5M320 272.5h5M322.5 270v5M328 264.5h5M330.5 262v5M310 281.5h5M312.5 279v5M344 266.5h5M346.5 264v5M325 279.5h5M327.5 277v5M321 292.5h5M323.5 290v5M324 288.5h5M326.5 286v5M303 293.5h5M305.5 291v5M315 249.5h5M317.5 247v5M337 287.5h5M339.5 285v5M292 286.5h5M294.5 284v5M304 262.5h5M306.5 260v5M325 256.5h5M327.5 254v5M306 245.5h5M308.5 243v5M313 240.5h5M315.5 238v5M315 246.5h5M317.5 244v5M320 326.5h5M322.5 324v5" stroke="#6dff93" stroke-width="1" fill="none" shape-rendering="crispEdges"/>
<path d="M299 297.5h5M301.5 295v5M305 306.5h5M307.5 304v5M301 298.5h5M303.5 296v5M311 302.5h5M313.5 300v5M320 304.5h5M322.5 302v5M298 308.5h5M300.5 306v5M327 303.5h5M329.5 301v5M318 311.5h5M320.5 309v5M316 295.5h5M318.5 293v5M320 293.5h5M322.5 291v5M313 289.5h5M315.5 287v5M319 290.5h5M321.5 288v5M324 312.5h5M326.5 310v5M327 283.5h5M329.5 281v5M305 298.5h5M307.5 296v5M324 322.5h5M326.5 320v5M290 297.5h5M292.5 295v5M325 274.5h5M327.5 272v5M328 270.5h5M330.5 268v5M333 284.5h5M335.5 282v5M325 297.5h5M327.5 295v5M331 274.5h5M333.5 272v5M337 284.5h5M339.5 282v5M323 283.5h5M325.5 281v5M335 288.5h5M337.5 286v5M331 269.5h5M333.5 267v5M334 264.5h5M336.5 262v5M336 295.5h5M338.5 293v5M347 276.5h5M349.5 274v5M333 271.5h5M335.5 269v5M316 281.5h5M318.5 279v5M323 287.5h5M325.5 285v5M309 269.5h5M311.5 267v5M304 261.5h5M306.5 259v5M160 250.5h5M162.5 248v5M308 194.5h5M310.5 192v5M327 235.5h5M329.5 233v5M368 241.5h5M370.5 239v5M396 185.5h5M398.5 183v5M341 263.5h5M343.5 261v5M391 261.5h5M393.5 259v5M345 285.5h5M347.5 283v5M342 294.5h5M344.5 292v5M344 318.5h5M346.5 316v5M322 327.5h5M324.5 325v5M184 316.5h5M186.5 314v5M243 372.5h5M245.5 370v5M247 408.5h5M249.5 406v5M246 474.5h5M248.5 472v5" stroke="#73ff8d" stroke-width="1" fill="none" shape-rendering="crispEdges"/>
<path d="M315 293.5h5M317.5 291v5M315 300.5h5M317.5 298v5M336 283.5h5M338.5 281v5M322 292.5h5M324.5 290v5M343 285.5h5M345.5 283v5M311 310.5h5M313.5 308v5M319 308.5h5M321.5 306v5M332 285.5h5M334.5 283v5M317 278.5h5M319.5 276v5M324 267.5h5M326.5 265v5M318 289.5h5M320.5 287v5M328 282.5h5M330.5 280v5M303 271.5h5M305.5 269v5M323 259.5h5M325.5 257v5M338 290.5h5M340.5 288v5M323 277.5h5M325.5 275v5M345 261.5h5M347.5 259v5M341 282.5h5M343.5 280v5M338 257.5h5M340.5 255v5M328 267.5h5M330.5 265v5M317 240.5h5M319.5 238v5M340 240.5h5M342.5 238v5M344 248.5h5M346.5 246v5M334 255.5h5M336.5 253v5M343 268.5h5M345.5 266v5M341 297.5h5M343.5 295v5M341 310.5h5M343.5 308v5M312 340.5h5M314.5 338v5" stroke="#7aff86" stroke-width="1" fill="none" shape-rendering="crispEdges"/>
<path d="M337 277.5h5M339.5 275v5M339 291.5h5M341.5 289v5M336 256.5h5M338.5 254v5M353 261.5h5M355.5 259v5M345 276.5h5M347.5 274v5M342 283.5h5M344.5 281v5M352 285.5h5M354.5 283v5M355 284.5h5M357.5 282v5M362 291.5h5M364.5 289v5M350 294.5h5M352.5 292v5M341 313.5h5M343.5 311v5M349 314.5h5M351.5 312v5M325 316.5h5M327.5 314v5" stroke="#80ff80" stroke-width="1" fill="none" shape-rendering="crispEdges"/>
<path d="M336 282.5h2M336 285.5h2M335.5 283v2M338.5 283v2M345 298.5h2M345 301.5h2M344.5 299v2M347.5 299v2M334 275.5h2M334 278.5h2M333.5 276v2M336.5 276v2M342 278.5h2M342 281.5h2M341.5 279v2M344.5 279v2" stroke="#80ff80" stroke-width="1" fill="none" shape-rendering="crispEdges"/>
<path d="M350 274.5h2M350 277.5h2M349.5 275v2M352.5 275v2M339 267.5h2M339 270.5h2M338.5 268v2M341.5 268v2" stroke="#86ff7a" stroke-width="1" fill="none" shape-rendering="crispEdges"/>
<path d="M288 218.5h2M288 221.5h2M287.5 219v2M290.5 219v2M312 254.5h2M312 257.5h2M311.5 255v2M314.5 255v2M330 256.5h2M330 259.5h2M329.5 257v2M332.5 257v2M335 260.5h2M335 263.5h2M334.5 261v2M337.5 261v2M317 261.5h2M317 264.5h2M316.5 262v2M319.5 262v2M323 261.5h2M323 264.5h2M322.5 262v2M325.5 262v2M326 262.5h2M326 265.5h2M325.5 263v2M328.5 263v2M313 265.5h2M313 268.5h2M312.5 266v2M315.5 266v2M341 258.5h2M341 261.5h2M340.5 259v2M343.5 259v2M337 324.5h2M337 327.5h2M336.5 325v2M339.5 325v2M309 328.5h2M309 331.5h2M308.5 329v2M311.5 329v2M292 332.5h2M292 335.5h2M291.5 333v2M294.5 333v2M294 340.5h2M294 343.5h2M293.5 341v2M296.5 341v2M320 384.5h2M320 387.5h2M319.5 385v2M322.5 385v2" stroke="#99ff66" stroke-width="1" fill="none" shape-rendering="crispEdges"/>
<path d="M341 253.5h2M341 256.5h2M340.5 254v2M343.5 254v2M341 261.5h2M341 264.5h2M340.5 262v2M343.5 262v2M341 254.5h2M341 257.5h2M340.5 255v2M343.5 255v2M342 289.5h2M342 292.5h2M341.5 290v2M344.5 290v2" stroke="#a0ff60" stroke-width="1" fill="none" shape-rendering="crispEdges"/>
<path d="M341 259.5h2M341 262.5h2M340.5 260v2M343.5 260v2M344 275.5h2M344 278.5h2M343.5 276v2M346.5 276v2" stroke="#a6ff5a" stroke-width="1" fill="none" shape-rendering="crispEdges"/>
<path d="M346 295.5h2M346 298.5h2M345.5 296v2M348.5 296v2" stroke="#acff53" stroke-width="1" fill="none" shape-rendering="crispEdges"/>
<path d="M349 251.5h2M349 254.5h2M348.5 252v2M351.5 252v2" stroke="#b3ff4d" stroke-width="1" fill="none" shape-rendering="crispEdges"/>
<path d="M363 316.5h2M363 319.5h2M362.5 317v2M365.5 317v2" stroke="#b9ff46" stroke-width="1" fill="none" shape-rendering="crispEdges"/>
<path d="M423 270.5h2M423 273.5h2M422.5 271v2M425.5 271v2" stroke="#c0ff40" stroke-width="1" fill="none" shape-rendering="crispEdges"/>
</g>
<path d="M240.0 152.5 l16.6 .9 l-12.3 11.4" fill="none" stroke="#ececec" stroke-width="1.1" stroke-linecap="round" stroke-linejoin="round"/>
<path d="M352.0 464.5 l16.6 .9 l-12.3 11.4" fill="none" stroke="#ececec" stroke-width="1.1" stroke-linecap="round" stroke-linejoin="round"/>
<path d="M296.4 308.3 l16.6 .9 l-12.3 11.4" fill="none" stroke="#dcdcdc" stroke-width="1.1" stroke-linecap="round" stroke-linejoin="round"/>
</g>
<text class="mb" x="299" y="56.8" text-anchor="middle" style="letter-spacing:-.22px">North</text>
<text class="mb" x="16" y="318" style="letter-spacing:-.22px">West</text>
<text class="sb" x="552.2" y="318" style="letter-spacing:.25px">East</text>
<text class="sb" x="299" y="578" text-anchor="middle">South</text>
<text class="it" x="12" y="572">V</text><text class="up" x="19.3" y="576" style="font-size:10px">h</text><text class="it" x="25.4" y="572"> = 48 ± 14 </text><text class="up" x="102.5" y="572">m/s</text>
<text class="it" x="12" y="592.6">Geographic coordinates</text>
<text class="it" x="467" y="572">V</text><text class="up" x="474.3" y="576" style="font-size:10px">z</text><text class="it" x="480.4" y="572"> = -11 ± 1 </text><text class="up" x="557.4" y="572">m/s</text>
<text class="it" x="419" y="592.6">Zenith: max 40</text><text class="it" x="517" y="591.6" style="font-size:10px">°</text><text class="it" x="535" y="592.6">step 5</text><text class="it" x="576.5" y="591.6" style="font-size:10px">°</text>
<g id="colorbar">
<rect x="593" y="341" width="15" height="242" fill="url(#jet)"/>
<path d="M608.5 341V583M609 341.5h6M609 345.5h6M609 349.5h3M609 353.5h3M609 357.5h3M609 361.5h3M609 365.5h6M609 369.5h3M609 372.5h3M609 376.5h3M609 380.5h3M609 384.5h6M609 388.5h3M609 392.5h3M609 396.5h3M609 400.5h3M609 403.5h6M609 407.5h3M609 411.5h3M609 415.5h3M609 419.5h3M609 423.5h6M609 427.5h3M609 431.5h3M609 434.5h3M609 438.5h3M609 442.5h6M609 446.5h3M609 450.5h3M609 454.5h3M609 458.5h3M609 461.5h6M609 465.5h3M609 469.5h3M609 473.5h3M609 477.5h3M609 481.5h6M609 485.5h3M609 489.5h3M609 492.5h3M609 496.5h3M609 500.5h6M609 504.5h3M609 508.5h3M609 512.5h3M609 516.5h3M609 520.5h6M609 523.5h3M609 527.5h3M609 531.5h3M609 535.5h3M609 539.5h6M609 543.5h3M609 547.5h3M609 551.5h3M609 554.5h3M609 558.5h6M609 562.5h3M609 566.5h3M609 570.5h3M609 574.5h3M609 578.5h6M609 582.5h6" stroke="#000" stroke-width="1" fill="none" shape-rendering="crispEdges"/>
<text class="cl" x="617.5" y="345">3.1</text><text class="cl" x="617.5" y="369">2.5</text><text class="cl" x="617.5" y="388">2.0</text><text class="cl" x="617.5" y="407">1.5</text><text class="cl" x="617.5" y="427">1.0</text><text class="cl" x="617.5" y="446">0.5</text><text class="cl" x="617.5" y="465">0</text><text class="cl" x="617.5" y="485">-0.5</text><text class="cl" x="617.5" y="504">-1.0</text><text class="cl" x="617.5" y="524">-1.5</text><text class="cl" x="617.5" y="543">-2.0</text><text class="cl" x="617.5" y="562">-2.5</text><text class="cl" x="617.5" y="586">-3.1</text>
<text class="lg" transform="translate(657.3 492) rotate(-90)" textLength="53.5" lengthAdjust="spacing" style="fill:#000">Doppler, Hz</text>
<path d="M669 402.5h8M672.5 399v7" stroke="#0000f0" stroke-width="1" shape-rendering="crispEdges"/>
<text class="lg" x="682.1" y="406" style="fill:#0000e0">Positive</text>
<path d="M671 520.5h4M671 525.5h4M670.5 521v4M675.5 521v4" fill="none" stroke="#e60000" stroke-width="1" shape-rendering="crispEdges"/>
<text class="lg" x="682.1" y="526.6" style="fill:#e80000">Negative</text>
</g>
<text class="sm" x="654.5" y="592.4" textLength="137.5" lengthAdjust="spacing">ShowSkymap v 1.0   SD v 5.1</text>
</svg>
</body></html>
